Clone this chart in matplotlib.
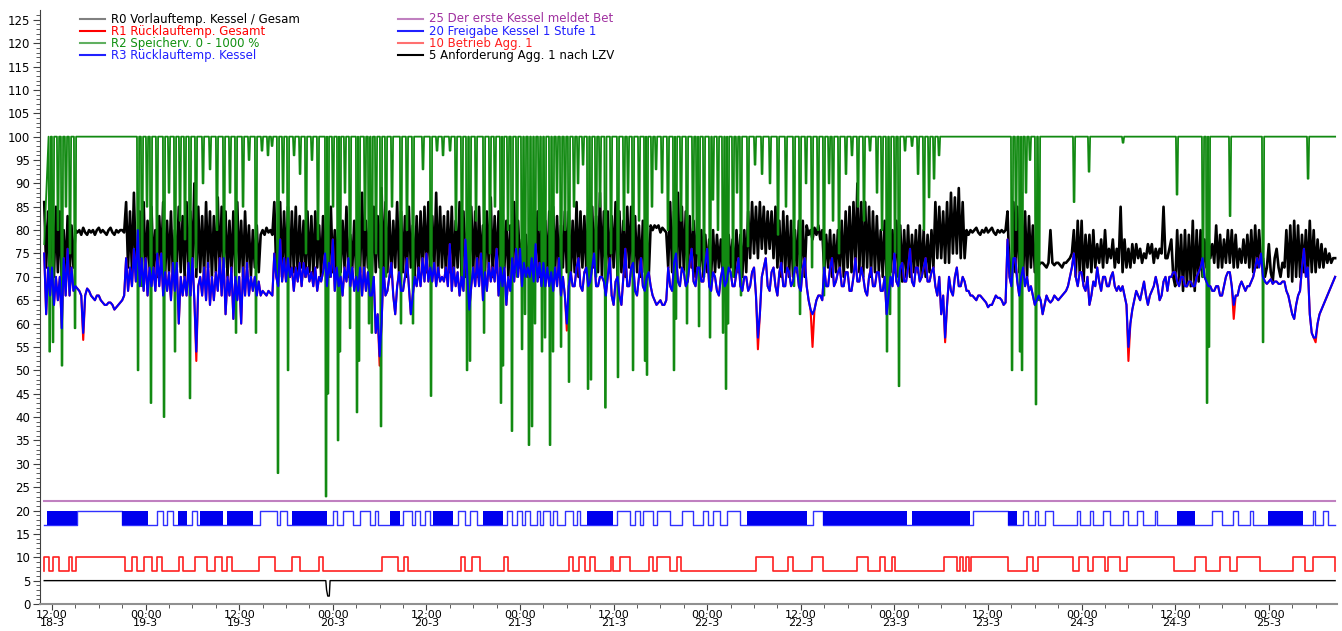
import numpy as np
import matplotlib
matplotlib.use("Agg")
import matplotlib.pyplot as plt
from matplotlib.lines import Line2D

plt.rcParams['font.family'] = ['DejaVu Sans']

# Zeit in Stunden ab 18-3 00:00, Analogwerte im Raster von 15 min
T_START = 11.0
T_STEP = 0.25
T_END = 176.5

# R0 Vorlauftemp. Kessel / Gesamt (je Zeile 6 h)
R0_VORLAUF = [
    86, 72, 84, 71, 82, 70, 85, 71, 84, 69, 80, 70, 83, 70, 81, 72, 80, 79.5, 80, 79, 80.5, 79.5, 79, 80,
    79.5, 80, 79, 80, 80.5, 79.5, 80, 79.5, 79, 80, 80.5, 79.5, 79, 80, 79.5, 80, 80, 79.5, 86, 72, 84, 71, 88, 72,
    70, 84, 71, 86, 70, 82, 72, 85, 71, 80, 70, 83, 72, 86, 70, 82, 71, 84, 70, 80, 72, 85, 71, 83,
    70, 86, 71, 84, 72, 90, 70, 85, 71, 83, 70, 86, 72, 84, 70, 83, 71, 87, 70, 85, 72, 84, 70, 82,
    71, 84, 70, 86, 71, 82, 70, 84, 72, 81, 70, 80, 72, 81, 71, 79, 80, 79, 80.5, 79.5, 80, 79, 86, 71,
    71, 86, 70, 84, 72, 85, 70, 84, 71, 85, 70, 83, 72, 82, 70, 84, 71, 83, 70, 84, 72, 81, 70, 83,
    72, 83, 70, 85, 71, 80, 70, 84, 71, 82, 72, 85, 70, 79, 72, 82, 70, 86, 71, 88, 70, 82, 72, 84,
    70, 85, 71, 83, 72, 89, 70, 86, 71, 84, 70, 82, 72, 86, 70, 84, 71, 83, 70, 85, 72, 81, 70, 83,
    70, 84, 72, 85, 71, 86, 70, 83, 71, 88, 70, 85, 72, 83, 70, 84, 71, 85, 70, 82, 72, 86, 70, 84,
    70, 83, 72, 85, 71, 84, 70, 85, 71, 81, 70, 84, 72, 87, 70, 83, 71, 84, 70, 85, 72, 82, 70, 81,
    70, 86, 71, 82, 72, 78, 73, 79, 70, 80, 72, 78, 72, 84, 70, 83, 71, 82, 70, 84, 72, 85, 71, 83,
    70, 81, 72, 84, 71, 84, 70, 82, 71, 86, 70, 84, 72, 83, 71, 85, 70, 85, 72, 83, 71, 88, 70, 84,
    70, 84, 71, 83, 72, 86, 70, 84, 71, 82, 70, 85, 72, 85, 70, 83, 71, 81, 70, 82, 71, 80, 70, 81,
    80, 81, 80.5, 81, 79.5, 80.5, 80, 79.5, 72, 86, 71, 84, 70, 88, 72, 85, 71, 84, 70, 83, 72, 82, 70, 84,
    71, 80, 70, 79, 71, 78, 70, 80, 71, 79, 72, 78, 70, 80, 71, 79, 72, 78, 70, 80, 71, 79, 70, 80,
    71, 84, 74, 86, 75, 85, 74, 86, 76, 85, 75, 84, 76, 84, 74, 85, 72, 82, 70, 84, 71, 83, 70, 82,
    70, 80, 71, 82, 72, 82, 70, 81, 79, 80, 78, 80.5, 79, 81, 78, 80, 71, 79, 72, 80, 70, 79, 71, 80,
    71, 82, 70, 84, 72, 85, 71, 86, 72, 90, 71, 86, 70, 86, 72, 85, 70, 84, 71, 83, 71, 80, 70, 82,
    70, 78, 71, 80, 71, 82, 70, 81, 69, 80, 70, 81, 70, 79, 71, 80, 71, 81, 70, 80, 70, 79, 71, 80,
    72, 86, 74, 85, 74, 84, 73, 86, 73, 88, 75, 87, 75, 89, 74, 86, 74, 80, 79, 80, 79.5, 80, 80.5, 79.5,
    79, 80, 79.5, 80.5, 79.5, 80, 80.5, 79.5, 79, 80, 79.5, 80, 79.5, 80, 84, 71, 70, 86, 71, 85, 71, 88, 70, 84,
    70, 83, 72, 81, 71, 76, 72.5, 73, 73, 72.5, 72, 73, 80, 73, 72.5, 73, 73, 72.5, 72, 73, 73, 73.5, 74, 75,
    80, 70, 82, 71, 82, 69, 79, 72, 79, 71, 80, 72, 77, 73, 78, 72, 80, 73, 76, 74, 78, 72, 76, 73,
    85, 71, 78, 72, 76, 72, 77, 73, 77, 74, 76, 73, 75, 74, 77, 75, 77, 73, 76, 74, 76, 75, 85, 74,
    74, 76, 78, 70, 68, 80, 69, 79, 67, 80, 68, 79, 68, 82, 67, 80, 69, 80, 70, 78, 72, 79, 74, 77,
    73, 81, 72, 79, 72, 78, 73, 80, 73, 80, 72, 79, 72, 76, 73, 78, 73, 79, 72, 80, 71, 81, 72, 80,
    73, 74, 70, 72, 77, 71, 69, 74, 76, 72, 70, 73, 72, 80, 70, 81, 69, 82, 70, 81, 70, 79, 71, 80,
    70, 82, 71, 80, 71, 78, 72, 77, 72, 76, 73, 75, 73, 74, 74,
]

# R3 Ruecklauftemp. Kessel
R3_RUECKLAUF = [
    75, 62, 72, 66, 72, 64, 70, 65, 70, 59, 74, 66, 76, 66, 72, 67, 68, 67.5, 67, 66, 58, 66, 67.5, 67,
    66, 65.5, 65, 66, 66, 65, 64.5, 64, 64, 64.5, 64.5, 64, 63, 63.5, 64, 64.5, 65, 66, 74, 67, 72, 68, 76, 69,
    80, 68, 74, 67, 74, 66, 72, 68, 72, 67, 75, 68, 75, 66, 71, 67, 71, 65, 73, 67, 73, 60, 70, 66,
    70, 66, 73, 66, 74, 65, 54, 68, 70, 66, 72, 65, 73, 64, 70, 65, 71, 67, 74, 66, 74, 62, 70, 66,
    72, 61, 70, 65, 70, 60, 72, 66, 73, 66, 70, 67, 70, 66, 69, 66, 67, 66.5, 66, 67, 66.5, 66, 75, 70,
    68, 78, 69, 74, 69, 74, 70, 72, 67, 72, 69, 73, 68, 73, 70, 72, 69, 71, 68, 72, 67, 70, 69, 71,
    75, 68, 73, 70, 78, 67, 72, 68, 70, 66, 72, 69, 74, 68, 72, 67, 70, 67, 72, 66, 72, 67, 71, 66,
    66, 70, 58, 62, 53, 60, 72, 66, 67, 70, 73, 66, 62, 68, 71, 67, 67, 70, 74, 68, 62, 66, 70, 68,
    72, 68, 74, 69, 75, 69, 72, 69, 73, 68, 72, 69, 70, 69, 72, 68, 77, 67, 72, 68, 71, 66, 70, 67,
    78, 70, 63, 68, 72, 68, 74, 68, 75, 65, 71, 67, 73, 69, 72, 69, 76, 66, 72, 68, 72, 64, 70, 67,
    74, 69, 76, 70, 76, 68, 73, 70, 72, 70, 74, 69, 77, 69, 73, 68, 73, 68, 72, 68, 71, 67, 72, 68,
    74, 66, 70, 66, 60, 68, 71, 68, 68, 72, 74, 68, 67, 71, 72, 68, 69, 72, 75, 68, 68, 70, 70, 69,
    66, 70, 74, 66, 64, 69, 70, 66, 64, 70, 76, 68, 68, 72, 73, 67, 66, 70, 74, 68, 67, 70, 71, 68,
    66, 65, 64, 64.5, 65, 64, 64, 65, 72, 68, 67, 73, 75, 69, 68, 72, 71, 68, 69, 73, 76, 69, 68, 72,
    72, 69, 69, 73, 76, 68, 67, 71, 70, 67, 66, 70, 72, 68, 69, 72, 71, 68, 68, 71, 74, 68, 67, 70,
    70, 67, 68, 71, 72, 66, 57, 62, 70, 72, 74, 68, 67, 71, 72, 68, 66, 71, 73, 68, 68, 72, 71, 68,
    69, 72, 72, 68, 67, 72, 74, 68, 65, 63, 62, 63, 65, 66, 66, 65, 72, 68, 68, 72, 74, 68, 69, 71,
    72, 68, 68, 71, 71, 67, 67, 70, 74, 69, 69, 72, 70, 67, 66, 70, 72, 68, 68, 71, 71, 67, 67, 70,
    62, 66, 70, 68, 75, 69, 68, 72, 73, 69, 69, 72, 76, 69, 68, 72, 72, 69, 70, 72, 74, 69, 69, 71,
    72, 68, 66, 70, 62, 66, 57, 64, 70, 67, 66, 70, 72, 68, 68, 70, 69, 67, 67, 66, 66, 65.5, 65, 66,
    66, 65.5, 65, 64.5, 63.5, 64, 64, 65, 66, 65.5, 65.5, 65, 64, 64.5, 78, 70, 68, 74, 74, 69, 66, 70, 72, 68,
    70, 67, 68, 66, 64, 65, 66, 65, 62, 64, 66, 65, 64.5, 65, 66, 65.5, 65, 65.5, 66, 66.5, 67, 68, 70, 72,
    75, 70, 68, 71, 71, 68, 67, 70, 64, 66, 69, 68, 72, 69, 67, 70, 70, 68, 68, 70, 71, 68, 67, 68,
    67, 68, 66, 64, 55, 60, 63, 65, 67, 66, 65, 67, 69, 66, 64, 66, 67, 68, 70, 68, 65, 66, 69, 70,
    67, 70, 70, 71, 71, 69, 68, 70, 70, 68, 68, 69, 69, 68, 68, 70, 71, 72, 74, 70, 69, 68, 68, 67,
    67, 68, 68, 66, 66, 68, 70, 71, 71, 68, 64, 66, 66, 68, 69, 68, 67, 68, 68, 69, 70, 72, 74, 72,
    75, 70, 69, 68.5, 69, 69.5, 68.5, 69, 69, 68.5, 68.5, 69, 69, 67, 66, 64, 62, 61, 64, 66, 67, 72, 76, 70,
    72, 62, 58, 57, 57, 60, 62, 63, 64, 65, 66, 67, 68, 69, 70,
]

# R1 Ruecklauftemp. Gesamt: wie R3, nur an diesen Stellen tiefer
R1_SPITZEN = {16.0: 56.5, 30.5: 52, 54.0: 51, 78.0: 58.5, 102.5: 54.5,
              109.5: 55, 126.5: 56, 150.0: 52, 163.5: 61, 174.0: 56}

# R2 Speicherverhalten: sonst 100, Einbrueche (Zeitpunkt, Minimum)
R2_START = 77
R2_DIP_H = [
    11.7, 12.13, 12.77, 13.28, 13.79, 14.31, 14.95,
    23.03, 23.54, 24.18, 24.69, 25.46, 26.36, 27.0, 27.77, 28.41, 29.05,
    29.69, 30.46, 31.36, 32.26, 33.15, 34.05, 34.82, 35.59, 36.49, 37.26,
    38.15, 38.92, 39.69, 40.21, 40.97, 41.62, 42.26, 43.03, 43.8, 44.56,
    45.33, 46.1, 47.13, 47.38, 48.03, 48.67, 48.92, 49.56, 50.21, 51.1,
    51.36, 52.13, 52.64,
    53.0, 53.54, 54.18, 54.82, 55.59, 56.74, 57.51, 58.28, 59.56, 60.59,
    61.36, 62.13, 63.03, 63.79, 64.56, 65.21, 65.59, 66.36, 67.39, 68.15,
    68.79, 69.56, 69.82, 70.46, 70.97, 71.62, 72.26, 72.64, 73.15, 73.54,
    73.92, 74.44, 74.82, 75.21, 75.85, 76.23, 76.74, 77.26, 77.77, 78.28,
    78.92, 79.44, 80.08, 80.72, 81.1, 81.74, 82.26, 82.95, 83.67, 84.56,
    85.33, 85.85, 86.49, 87.26, 88.03, 88.28, 88.92, 89.44, 90.21, 90.97,
    91.74, 92.0, 92.64, 93.41, 94.18, 94.69,
    94.95, 95.59, 96.36, 96.74, 97.38, 98.03, 98.41, 98.67, 99.31, 99.82,
    100.33, 101.23, 102.13, 103.03, 104.05, 105.08, 106.1, 107.13, 107.9,
    108.67, 109.44, 110.21, 110.97, 111.62, 112.13, 112.9, 113.79, 114.56,
    115.33, 116.1, 116.87, 117.77, 118.41, 119.05, 119.44, 120.08, 120.59,
    121.36, 122.26, 123.03, 123.79, 124.44, 125.08, 125.72,
    135.08, 135.59, 136.1, 136.36, 136.87, 137.38, 138.15, 138.54,
    143.03, 144.95, 149.31, 156.23, 159.56, 160.08, 160.33, 163.03, 167.26,
    173.03,
]
R2_DIP_MIN = [
    54, 56, 80, 51, 85, 75, 59,
    50, 68, 85, 43, 75, 40, 88, 54, 82, 78,
    44, 72, 90, 93, 80, 72, 88, 58, 85, 95,
    58, 97, 96, 98, 28, 88, 50, 96, 92, 75,
    95, 78, 23, 45, 85, 35, 54, 88, 59, 41,
    52, 80, 60,
    58, 75, 38, 70, 85, 60, 80, 60, 93, 44.5,
    97, 96, 97, 80, 70, 50, 52, 82, 58, 75,
    85, 43, 51, 80, 37, 70, 54.5, 62, 34, 38,
    60, 80, 54, 57, 34, 54, 88, 55, 80, 47.5,
    85, 90, 94, 46, 48, 70, 85, 42, 75, 48.5,
    80, 88, 50, 82, 52, 49, 85, 93, 88, 80,
    50, 61, 82, 60, 80, 75,
    59.4, 70, 57, 86.5, 80, 58, 46, 60, 70, 88,
    66, 76.5, 94, 92, 90, 79, 85, 68, 62,
    90, 72, 80, 66, 90, 82, 75, 92, 96,
    85, 82, 97, 88, 80, 54, 62, 75, 46.6,
    97, 98, 92, 80, 87, 91, 96,
    50, 80, 54, 50, 88, 95, 42.7, 65,
    86, 92.5, 98.7, 87.6, 70, 43, 55, 83, 56,
    91,
]

KESSEL_MELDET = 22  # 25 Der erste Kessel meldet Betrieb

# 20 Freigabe Kessel 1 Stufe 1 (17 = aus, 20 = ein)
FREIGABE_EIN = [
    (15.2, 21.0), (25.5, 26.2), (26.7, 27.5), (29.9, 30.6), (38.7, 40.8),
    (41.2, 42.1), (48.0, 48.5), (49.3, 50.6), (51.5, 52.8), (53.4, 53.8),
    (57.0, 58.2), (58.5, 59.2), (59.8, 60.5), (64.1, 65.0), (65.6, 66.5),
    (70.3, 71.0), (71.6, 72.3), (72.6, 73.3), (74.2, 74.6), (74.9, 75.8),
    (76.2, 76.7), (77.8, 78.8), (79.3, 79.7), (84.4, 86.1), (86.7, 87.4),
    (87.8, 89.1), (89.6, 91.2), (92.8, 94.2), (95.5, 96.1), (96.7, 97.6),
    (98.5, 100.2), (109.6, 110.8), (130.1, 134.6), (136.5, 137.1),
    (138.0, 138.4), (139.3, 140.3), (143.4, 143.8), (145.1, 145.5),
    (146.7, 147.6), (149.3, 149.9), (151.1, 151.9), (153.4, 153.7),
    (160.7, 162.0), (163.4, 164.1), (165.6, 166.0), (173.7, 173.9),
    (174.9, 175.6),
]
# Abschnitte mit sehr schnellem Takten (im Bild flaechig blau)
FREIGABE_TAKT = [
    (11.4, 15.2), (21.0, 24.3), (28.2, 29.3), (31.0, 33.9), (34.4, 37.8),
    (42.8, 47.3), (55.3, 56.6), (60.8, 63.4), (67.3, 69.8), (80.6, 83.9),
    (101.1, 108.8), (110.8, 121.6), (122.3, 129.7), (134.6, 135.7),
    (156.2, 158.5), (167.9, 172.4),
]

# 10 Betrieb Agg. 1 (7 = aus, 10 = ein)
BETRIEB_EIN = [
    (11.0, 11.6), (12.1, 12.9), (14.2, 14.6), (15.1, 21.4), (22.3, 22.9),
    (23.8, 24.8), (25.5, 26.1), (28.3, 28.8), (30.3, 31.9), (32.9, 33.8),
    (34.4, 35.1), (38.5, 40.6), (42.8, 43.8), (46.2, 46.7), (54.3, 56.4),
    (57.1, 57.6), (64.4, 65.0), (65.8, 66.9), (69.9, 70.5), (78.3, 78.8),
    (79.6, 80.3), (81.0, 81.6), (83.7, 83.9), (84.8, 86.1), (88.5, 89.1),
    (89.6, 91.2), (92.1, 92.6), (102.3, 104.4), (106.4, 107.0),
    (109.4, 110.8), (115.2, 116.6), (118.2, 118.8), (119.7, 120.1),
    (126.4, 128.0), (128.4, 128.8), (129.2, 129.6), (129.8, 134.6),
    (137.0, 137.8), (138.4, 142.9), (143.7, 144.8), (145.5, 147.0),
    (147.4, 148.9), (149.8, 155.8), (158.5, 159.9), (161.7, 163.0),
    (163.9, 166.9), (171.1, 172.6), (173.7, 176.5),
]

# 5 Anforderung Agg. 1 nach LZV
LZV_T = [11.0, 47.1, 47.2, 47.35, 47.55, 47.65, 176.5]
LZV_V = [5, 5, 3, 1.7, 1.7, 5, 5]


def schritte(intervalle, aus, ein):
    t, v = [T_START], [aus]
    for a, b in intervalle:
        t += [a, a, b, b]
        v += [aus, ein, ein, aus]
    t.append(T_END)
    v.append(aus)
    return t, v


def dips(start, zeiten, minima, oben=100):
    t, v = [T_START], [start]
    for h, m in zip(zeiten, minima):
        t += [h - 0.14, h - 0.05, h + 0.05, h + 0.14]
        v += [oben, m, m, oben]
    t.append(T_END)
    v.append(oben)
    return t, v


t_r0 = T_START + T_STEP * np.arange(len(R0_VORLAUF))
t_r3 = T_START + T_STEP * np.arange(len(R3_RUECKLAUF))
r1 = list(R3_RUECKLAUF)
for h, w in R1_SPITZEN.items():
    r1[int(round((h - T_START) / T_STEP))] = w

fig = plt.figure(figsize=(13.42, 6.31), dpi=100)
ax = fig.add_axes([40 / 1342, 27 / 631, 1297 / 1342, 594 / 631])

ax.plot(t_r0, R0_VORLAUF, color='black', lw=1.9, zorder=2)
ax.plot(t_r3, r1, color='#ff0000', lw=1.5, zorder=3)
gt, gv = dips(R2_START, R2_DIP_H, R2_DIP_MIN)
ax.plot(gt, gv, color='#128a12', lw=1.3, zorder=4)
ax.plot(t_r3, R3_RUECKLAUF, color='#0000ff', lw=1.5, zorder=5)

ax.plot([T_START, T_END], [KESSEL_MELDET, KESSEL_MELDET], color='#c080c0', lw=1.5, zorder=3)

ft, fv = schritte(FREIGABE_EIN, 17, 20)
ax.plot(ft, fv, color='#3030ff', lw=1.0, zorder=3)
for a, b in FREIGABE_TAKT:
    ax.fill_between([a, b], 17, 20, color='#0000ee', lw=0, zorder=3)

bt, bv = schritte(BETRIEB_EIN, 7, 10)
ax.plot(bt, bv, color='#ff2020', lw=1.2, zorder=3)
ax.plot(LZV_T, LZV_V, color='black', lw=1.0, zorder=3)

# Achsen
ax.set_xlim(10.46, 176.74)
ax.set_ylim(0, 127.1)
ax.set_yticks(np.arange(0, 126, 5))
ax.set_yticks(np.arange(0, 127, 1), minor=True)
xt = np.arange(12, 169, 12)
ax.set_xticks(xt)
ax.set_xticklabels(['%02d:00\n%d-3' % (h % 24, 18 + h // 24) for h in xt], linespacing=0.78)
ax.set_xticks(np.arange(12, 176, 3), minor=True)
ax.tick_params(axis='both', which='major', labelsize=8.5, length=5, pad=1, color='#404040')
ax.tick_params(axis='both', which='minor', length=3, color='#404040')
ax.tick_params(axis='x', which='major', labelsize=8, length=4, pad=0)
ax.tick_params(axis='y', pad=2)
for s in ['top', 'right']:
    ax.spines[s].set_visible(False)
ax.spines['left'].set_color('#404040')
ax.spines['bottom'].set_color('#909090')
ax.spines['bottom'].set_linewidth(1.5)

# Legende
eintraege = [
    (80, 19, '#808080', 'black', 'R0 Vorlauftemp. Kessel / Gesam'),
    (80, 31, '#ff0000', '#ff0000', 'R1 Rücklauftemp. Gesamt'),
    (80, 43, '#60b060', '#109010', 'R2 Speicherv. 0 - 1000 %'),
    (80, 55, '#2020ff', '#2020ff', 'R3 Rücklauftemp. Kessel'),
    (398, 19, '#c080c0', '#a030a0', '25 Der erste Kessel meldet Bet'),
    (398, 31, '#2020ff', '#2020ff', '20 Freigabe Kessel 1 Stufe 1'),
    (398, 43, '#ff7070', '#ff2020', '10 Betrieb Agg. 1'),
    (398, 55, '#000000', 'black', '5 Anforderung Agg. 1 nach LZV'),
]
for x, y, lc, tc, txt in eintraege:
    fy = 1 - y / 631
    fig.add_artist(Line2D([x / 1342, (x + 25) / 1342], [fy, fy], color=lc, lw=1.5))
    fig.text((x + 31) / 1342, fy, txt, color=tc, fontsize=8.5, va='center', ha='left')

fig.savefig('out.png', dpi=100)
